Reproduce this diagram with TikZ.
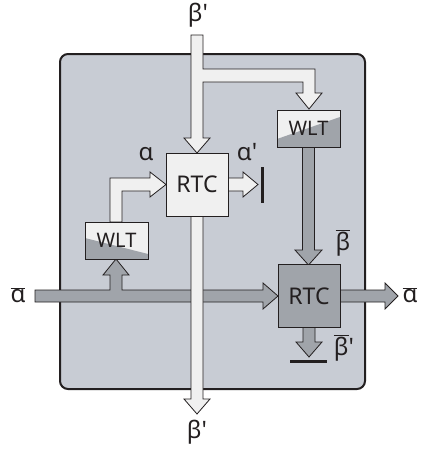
\documentclass[tikz,border=0pt]{standalone}
\usepackage{fontspec}
\setmainfont{Noto Sans}
\definecolor{edgec}{HTML}{231F20}
\definecolor{panel}{HTML}{C8CCD4}
\definecolor{wfill}{HTML}{F0F0F0}
\definecolor{gfill}{HTML}{A0A4AA}
\begin{document}
\begin{tikzpicture}[x=1pt,y=-1pt,
  edge/.style={draw=edgec, line width=0.8pt, line join=miter},
  warrow/.style={edge, fill=wfill},
  garrow/.style={edge, fill=gfill},
  lab/.style={text=edgec, font=\fontsize{24}{24}\selectfont, inner sep=0pt},
  rtcbox/.style={edge, minimum width=62pt, minimum height=63pt, inner sep=0pt,
    text=edgec, font=\fontsize{23}{23}\selectfont},
  wltbox/.style={edge, fill=wfill, minimum width=63pt, minimum height=37pt, inner sep=0pt,
    text=edgec, font=\fontsize{20}{20}\selectfont},
  bar/.style={draw=edgec, line width=3pt}]
\useasboundingbox (0,0) rectangle (423,450);
% panel
\draw[draw=edgec, line width=2pt, fill=panel, rounded corners=8pt] (60,54) rectangle (365,389);
% left input arrow (alpha bar) with branch up to WLT
\draw[garrow] (35,290) -- (110,290) -- (110,275) -- (103,275) -- (116,259) -- (129,275)
  -- (122,275) -- (122,290) -- (263,290) -- (263,283) -- (278,296) -- (263,309)
  -- (263,302) -- (35,302) -- cycle;
% top beta' arrow with branch to right WLT
\draw[warrow] (191,35) -- (203,35) -- (203,69) -- (315,69) -- (315,93) -- (322,93)
  -- (309,109) -- (296,93) -- (303,93) -- (303,82) -- (203,82) -- (203,138)
  -- (210,138) -- (197,153) -- (184,138) -- (191,138) -- cycle;
% bottom beta' output arrow
\draw[warrow] (191,216) -- (203,216) -- (203,399) -- (210,399) -- (197,414)
  -- (184,399) -- (191,399) -- cycle;
% left WLT to RTC arrow
\draw[warrow] (110,222) -- (110,178) -- (150,178) -- (150,172) -- (166,184.5)
  -- (150,197) -- (150,191) -- (122,191) -- (122,222) -- cycle;
% top RTC alpha' output
\draw[warrow] (228,178) -- (243,178) -- (243,172) -- (258,184.5) -- (243,197)
  -- (243,191) -- (228,191) -- cycle;
\draw[bar] (262,167) -- (262,203);
% right WLT to bottom RTC (beta bar)
\draw[garrow] (302.5,147) -- (314.5,147) -- (314.5,250) -- (322,250) -- (308.5,265)
  -- (295,250) -- (302.5,250) -- cycle;
% bottom RTC right output
\draw[garrow] (340,290) -- (385,290) -- (385,283) -- (398,296) -- (385,309)
  -- (385,302) -- (340,302) -- cycle;
% bottom RTC down output
\draw[garrow] (303,327) -- (315,327) -- (315,342) -- (322,342) -- (309,357)
  -- (296,342) -- (303,342) -- cycle;
\draw[bar] (290,361.5) -- (327,361.5);
% boxes
\node[rtcbox, fill=wfill] (rtc1) at (197,184.5) {RTC};
\node[rtcbox, fill=gfill] (rtc2) at (309,296) {RTC};
\node[wltbox, path picture={\fill[gfill]
   ([yshift=21pt]path picture bounding box.south west) --
   ([yshift=5pt]path picture bounding box.south east) --
   (path picture bounding box.south east) --
   (path picture bounding box.south west) -- cycle;}] (wlt1) at (116.5,240.5) {WLT};
\node[wltbox, path picture={\fill[gfill]
   ([yshift=8pt]path picture bounding box.south west) --
   ([yshift=30pt]path picture bounding box.south east) --
   (path picture bounding box.south east) --
   (path picture bounding box.south west) -- cycle;}] (wlt2) at (308.5,128.5) {WLT};
% labels
\node[lab] (btop) at (198,15) {β\textquotesingle};
\node[lab] (bbot) at (197,432) {β\textquotesingle};
\node[lab] (aleft) at (18,295) {$\overline{\mbox{α}}$};
\node[lab] (aright) at (410,295) {$\overline{\mbox{α}}$};
\node[lab] (ain) at (146,154) {α};
\node[lab] (aout) at (247,152) {α\textquotesingle};
\node[lab] (bbar) at (343,243) {$\overline{\mbox{β}}$};
\node[lab] (bbarp) at (344,348) {$\overline{\mbox{β}}$\textquotesingle};
\end{tikzpicture}
\end{document}
